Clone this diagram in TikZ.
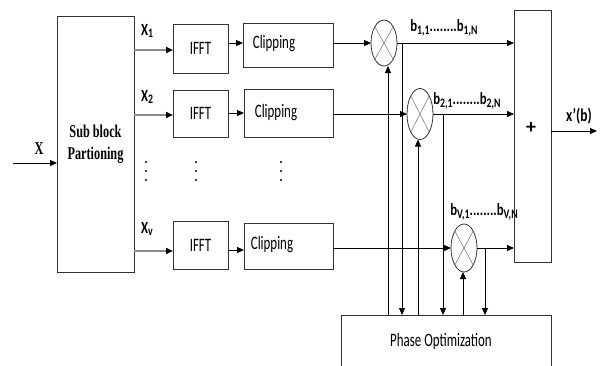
\documentclass[tikz,border=0pt]{standalone}
\usepackage{fontspec}
\usepackage{graphicx}
\setmainfont{Carlito}
\newfontfamily\tnr{Liberation Serif}
\usetikzlibrary{arrows.meta,shapes.geometric}
\newcommand{\sq}[1]{\scalebox{0.68}[1]{#1}}
\newcommand{\sqb}[1]{\scalebox{0.75}[1]{#1}}
\newcommand{\bs}[1]{\raisebox{-0.35ex}{\fontsize{13}{13}\selectfont #1}}
\begin{document}
\begin{tikzpicture}[x=1pt,y=-1pt,
  box/.style={draw=black!80, line width=0.8pt, inner sep=0pt, outer sep=0pt},
  lbl/.style={inner sep=0pt, outer sep=0pt, font=\fontsize{19}{20}\selectfont},
  blbl/.style={inner sep=0pt, outer sep=0pt, font=\fontsize{17}{18}\selectfont\bfseries},
  arr/.style={draw=black, line width=0.8pt, -{Triangle[length=7pt,width=6pt]}},
  garr/.style={draw=black!45, line width=1.8pt, -{Triangle[length=7pt,width=6pt,color=black]}},
  mul/.style={ellipse, draw=black!80, line width=0.8pt, minimum width=26pt, minimum height=46pt, inner sep=0pt, outer sep=0pt}]
\useasboundingbox (0,0) rectangle (602,365);

% main blocks
\node[box, minimum width=77, minimum height=256, align=center, font=\fontsize{18}{22}\selectfont\tnr\bfseries] (sb) at (95.5,144) {\sq{Sub block}\\\sq{Partioning}};

\node[box, lbl, minimum width=55, minimum height=49] (ifft1) at (200.5,48.5) {\sq{IFFT}};
\node[box, lbl, minimum width=55, minimum height=47] (ifft2) at (200.5,113.5) {\sq{IFFT}};
\node[box, lbl, minimum width=55, minimum height=48] (ifftv) at (200.5,245) {\sq{IFFT}};

\node[box, minimum width=90, minimum height=44] (clip1) at (288,45) {};
\node[box, minimum width=89, minimum height=48] (clip2) at (288.5,113) {};
\node[box, minimum width=89, minimum height=46] (clipv) at (288.5,246) {};
\node[lbl] (c1t) at (274,44) {\sq{Clipping}};
\node[lbl] (c2t) at (276,113) {\sq{Clipping}};
\node[lbl] (cvt) at (272,245) {\sq{Clipping}};

\node[mul] (m1) at (384,43) {};
\node[mul, minimum height=51pt] (m2) at (420,114) {};
\node[mul, minimum height=48pt] (mv) at (464,248) {};
\foreach \m in {m1,m2,mv}
  \draw[black!50, line width=0.6pt] (\m.north west) -- (\m.south east) (\m.north east) -- (\m.south west);

\node[box, minimum width=37, minimum height=252] (sum) at (532.5,136) {};
\node[lbl, font=\fontsize{20}{20}\selectfont\bfseries] (plus) at (531,128) {+};

\node[inner sep=0pt, outer sep=0pt, minimum width=210, minimum height=54] (po) at (446,342) {};
\draw[box] (po.south west) -- (po.north west) -- (po.north east) -- (po.south east);
\node[lbl] (pot) at (441,341) {\sq{Phase Optimization}};

% input
\coordinate (xin) at (13,163);
\draw[arr] (xin) -- (sb.west |- xin);
\node[inner sep=0pt, font=\fontsize{18}{20}\selectfont\tnr\bfseries] (xl) at (39,149) {\sq{X}};

% sub block -> IFFT
\coordinate (r1) at (0,50);
\coordinate (r2) at (0,115);
\coordinate (rv) at (0,251);
\draw[garr] (sb.east |- r1) -- (ifft1.west |- r1);
\draw[garr] (sb.east |- r2) -- (ifft2.west |- r2);
\draw[garr] (sb.east |- rv) -- (ifftv.west |- rv);
\node[blbl] (x1) at (147,31) {\sqb{X\bs{1}}};
\node[blbl] (x2) at (147,97) {\sqb{X\bs{2}}};
\node[blbl] (xv) at (147,229) {\sqb{X\bs{v}}};

% vertical dots
\foreach \x in {146,196,281}
  \foreach \y in {162,171,180}
    \fill (\x,\y) circle (1.2);

% IFFT -> Clipping
\coordinate (s1) at (0,43);
\coordinate (s2) at (0,113);
\coordinate (sv) at (0,250);
\draw[arr] (ifft1.east |- s1) -- (clip1.west |- s1);
\draw[arr] (ifft2.east |- s2) -- (clip2.west |- s2);
\draw[arr] (ifftv.east |- sv) -- (clipv.west |- sv);

% Clipping -> multipliers
\draw[arr] (clip1.east |- m1.west) -- (m1.west);
\draw[arr] (clip2.east |- m2.west) -- (m2.west);
\draw[arr] (clipv.east |- mv.west) -- (mv.west);

% multipliers -> sum
\draw[arr] (m1.east) -- (m1.east -| sum.west);
\draw[arr] (m2.east) -- (m2.east -| sum.west);
\draw[arr] (mv.east) -- (mv.east -| sum.west);
\node[blbl] (b1) at (444,28) {\sqb{b\bs{1,1}........b\bs{1,N}}};
\node[blbl] (b2) at (467,101) {\sqb{b\bs{2,1}........b\bs{2,N}}};
\node[blbl] (bv) at (484,212) {\sqb{b\bs{V,1}........b\bs{V,N}}};

% sum -> output
\coordinate (o) at (597,131);
\draw[arr] (sum.east |- o) -- (o);
\node[blbl, font=\fontsize{18}{18}\selectfont\bfseries] (xo) at (579,116) {\sqb{x'(b)}};

% phase optimization links
\draw[arr] ([xshift=4pt]m1.south |- po.north) -- ([xshift=4pt]m1.south);
\draw[arr] ([xshift=-2pt]m2.south |- po.north) -- ([xshift=-2pt]m2.south);
\draw[arr] ([xshift=-1pt]mv.south |- po.north) -- ([xshift=-1pt]mv.south);
\coordinate (t1) at (402,43);
\coordinate (t2) at (443,114);
\coordinate (tv) at (485,248);
\draw[arr] (t1) -- (t1 |- po.north);
\draw[arr] (t2) -- (t2 |- po.north);
\draw[arr] (tv) -- (tv |- po.north);
\end{tikzpicture}
\end{document}
